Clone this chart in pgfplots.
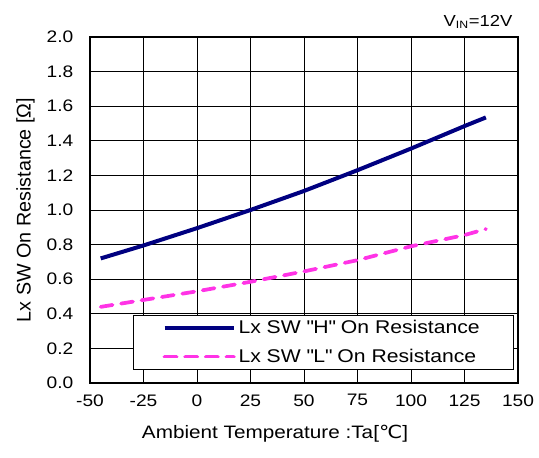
\documentclass[border=0pt]{standalone}
\usepackage{pgfplots}
\pgfplotsset{compat=1.18}
\usepackage{fontspec}
\setmainfont[FakeStretch=1.15]{Liberation Sans}
\newfontfamily\plainsans{Liberation Sans}
\newfontfamily\dejavu[FakeStretch=1.15]{DejaVu Sans}
\definecolor{hnavy}{RGB}{0,0,128}
\definecolor{lpink}{RGB}{255,51,230}

\begin{document}
\begin{tikzpicture}
\begin{axis}[
  width=321pt, height=259.5pt, scale only axis,
  xmin=-50, xmax=150, ymin=0, ymax=2.0,
  xtick={-50,-25,...,150},
  ytick={0,0.2,...,2.0},
  grid=major,
  major grid style={black, line width=0.6pt},
  axis line style={black, line width=0.8pt},
  major tick length=0pt,
  tick label style={font=\fontsize{12.5}{15}\selectfont},
  /pgf/number format/assume math mode=true,
  yticklabel style={/pgf/number format/fixed, /pgf/number format/precision=1, /pgf/number format/fixed zerofill, xshift=-9pt},
  xticklabel style={yshift=-5pt},
  xlabel={Ambient Temperature :Ta[{\dejavu ℃}]},
  ylabel={Lx SW On Resistance [Ω]},
  xlabel style={font=\fontsize{13.5}{16}\selectfont, yshift=-7pt, xshift=-21.75pt},
  ylabel style={font=\plainsans\fontsize{14.8}{17}\selectfont, yshift=2pt},
  legend cell align=left,
  legend style={at={(axis cs:-30,0.075)}, anchor=south west, draw=black, line width=0.6pt,
    fill=white, inner xsep=22pt, inner ysep=2pt, row sep=6pt,
    font=\fontsize{13.8}{16}\selectfont},
  legend image code/.code={\draw[#1] (0pt,0pt) -- (52pt,0pt);},
]
\addplot[hnavy, line width=3pt] coordinates {
  (-45,0.72) (-25,0.795) (0,0.895) (25,1.00) (50,1.11) (75,1.23) (100,1.355) (125,1.485) (135,1.535)
};
\addplot[lpink, line width=2.8pt, line cap=round, dash pattern=on 9pt off 6.5pt] coordinates {
  (-45,0.44) (-25,0.48) (0,0.53) (25,0.585) (50,0.645) (75,0.71) (100,0.79) (125,0.855) (135,0.89)
};
\legend{Lx SW \textquotedbl H\textquotedbl{} On Resistance\hspace*{1pt}, Lx SW \textquotedbl L\textquotedbl{} On Resistance\hspace*{1pt}}
\end{axis}
\node[anchor=south east, inner sep=0pt, font=\fontsize{12}{14}\selectfont] at ([xshift=-4pt,yshift=6pt]current axis.north east) {V\textsubscript{IN}=12V};
\pgfresetboundingbox
\path[use as bounding box] ([xshift=-67.5pt,yshift=-56.25pt]current axis.south west) rectangle ([xshift=15.75pt,yshift=27.75pt]current axis.north east);
\end{tikzpicture}
\end{document}
